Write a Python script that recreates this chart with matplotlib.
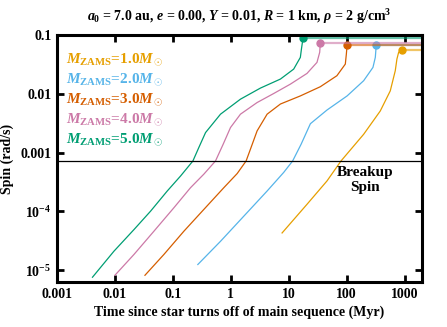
import numpy as np
import matplotlib
matplotlib.use("Agg")
import matplotlib.pyplot as plt

plt.rcParams['font.family'] = 'Liberation Serif'
plt.rcParams['font.weight'] = 'bold'
plt.rcParams['mathtext.fontset'] = 'custom'
plt.rcParams['mathtext.rm'] = 'Liberation Serif:bold'
plt.rcParams['mathtext.it'] = 'Liberation Serif:bold:italic'
plt.rcParams['mathtext.bf'] = 'Liberation Serif:bold'

masses = ['1.0', '2.0', '3.0', '4.0', '5.0']
colors = ['#E69F00', '#56B4E9', '#D55E00', '#CC79A7', '#009E73']

# spin-up tracks (time in Myr, spin in rad/s), last point = dot
t_1 = [7.69, 20.7, 45.9, 80, 197, 381, 567, 692, 739, 791, 902]
s_1 = [4.3e-5, 1.32e-4, 3.3e-4, 7.2e-4, 2.05e-3, 5.1e-3, 0.0112, 0.0247, 0.039, 0.0507, 0.0562]
t_2 = [0.27, 0.665, 1.68, 4.24, 8.2, 11.7, 16.4, 23.7, 45.9, 102, 197, 285, 313, 325]
s_2 = [1.25e-5, 3.1e-5, 8.3e-5, 2.22e-4, 4.6e-4, 7.2e-4, 1.39e-3, 3.1e-3, 5.3e-3, 9.2e-3,
       0.0167, 0.0281, 0.0416, 0.0676]
t_3 = [0.033, 0.070, 0.155, 0.343, 0.759, 1.29, 1.84, 2.24, 2.85, 4.24, 7.2, 15.9, 35.2,
       68, 95, 99, 102]
s_3 = [8.2e-6, 1.85e-5, 4.6e-5, 1.08e-4, 2.53e-4, 4.4e-4, 7.2e-4, 1.22e-3, 2.34e-3, 4.5e-3,
       6.7e-3, 9.2e-3, 0.0132, 0.0203, 0.032, 0.0474, 0.068]
t_4 = [0.0100, 0.0213, 0.0471, 0.104, 0.202, 0.343, 0.545, 0.740, 0.99, 1.47, 2.85, 5.5,
       10.7, 20.7, 30.8, 34.3, 35.2]
s_4 = [8.2e-6, 1.85e-5, 4.6e-5, 1.15e-4, 2.53e-4, 4.3e-4, 7.2e-4, 1.39e-3, 2.67e-3, 4.5e-3,
       7.1e-3, 0.0101, 0.0146, 0.0222, 0.0342, 0.0507, 0.073]
t_5 = [0.0041, 0.0096, 0.0213, 0.0413, 0.080, 0.136, 0.222, 0.281, 0.367, 0.665, 1.47, 3.25,
       7.2, 12.2, 15.9, 16.6, 17.7]
s_5 = [7.6e-6, 2.1e-5, 4.9e-5, 1.01e-4, 2.22e-4, 4.0e-4, 7.2e-4, 1.22e-3, 2.19e-3, 4.5e-3,
       8.1e-3, 0.0125, 0.0178, 0.0263, 0.0416, 0.0577, 0.089]
tracks_t = [t_1, t_2, t_3, t_4, t_5]
tracks_s = [s_1, s_2, s_3, s_4, s_5]

breakup = 7.2e-4
t_max = 2000

fig = plt.figure(figsize=(4.47, 3.27), dpi=100)
ax = fig.add_axes([0.1275, 0.1376, 0.8165, 0.7554])

for m, c, t, s in zip(masses, colors, tracks_t, tracks_s):
    ax.plot(t, s, color=c, lw=0.9)
    ax.plot([t[-1], t_max], [s[-1], s[-1]], color=c, lw=1.6, alpha=0.6)
    ax.plot(t[-1], s[-1], 'o', color=c, ms=5)

ax.axhline(breakup, color='black', lw=0.9)
ax.text(210, 3.42e-4, 'Breakup\nSpin', ha='center', va='center',
        fontsize=11, fontweight='bold', linespacing=1.2)

for i, (m, c) in enumerate(zip(masses, colors)):
    ax.text(0.025, 0.899 - i * 0.081,
            r'$M_{\rm ZAMS}$=' + m + r'$M_\odot$',
            transform=ax.transAxes, color=c, fontsize=11, va='center')

ax.set_xscale('log')
ax.set_yscale('log')
ax.set_xlim(0.001, t_max)
ax.set_ylim(6.3e-6, 0.1)
ax.set_xticks([0.001, 0.01, 0.1, 1, 10, 100, 1000])
ax.set_xticklabels(['0.001', '0.01', '0.1', '1', '10', '100', '1000'])
ax.set_yticks([1e-5, 1e-4, 0.001, 0.01, 0.1])
ax.set_yticklabels([r'$10^{-5}$', r'$10^{-4}$', '0.001', '0.01', '0.1'])
ax.minorticks_off()
ax.tick_params(direction='in', top=True, right=True, length=5, width=2,
               labelsize=10, pad=4)
for sp in ax.spines.values():
    sp.set_linewidth(2.2)

ax.set_xlabel('Time since star turns off of main sequence (Myr)',
              fontsize=10, fontweight='bold')
ax.set_ylabel('Spin (rad/s)', fontsize=10, fontweight='bold')
ax.yaxis.set_label_coords(-0.118, 0.5)
ax.xaxis.set_label_coords(0.5, -0.097)
ax.set_title(r'$a_0$ = 7.0 au, $e$ = 0.00, $Y$ = 0.01, $R$ = 1 km, $\rho$ = 2 g/cm$^3$',
             fontsize=10, fontweight='bold', pad=10)

fig.savefig('out.png', dpi=100)
